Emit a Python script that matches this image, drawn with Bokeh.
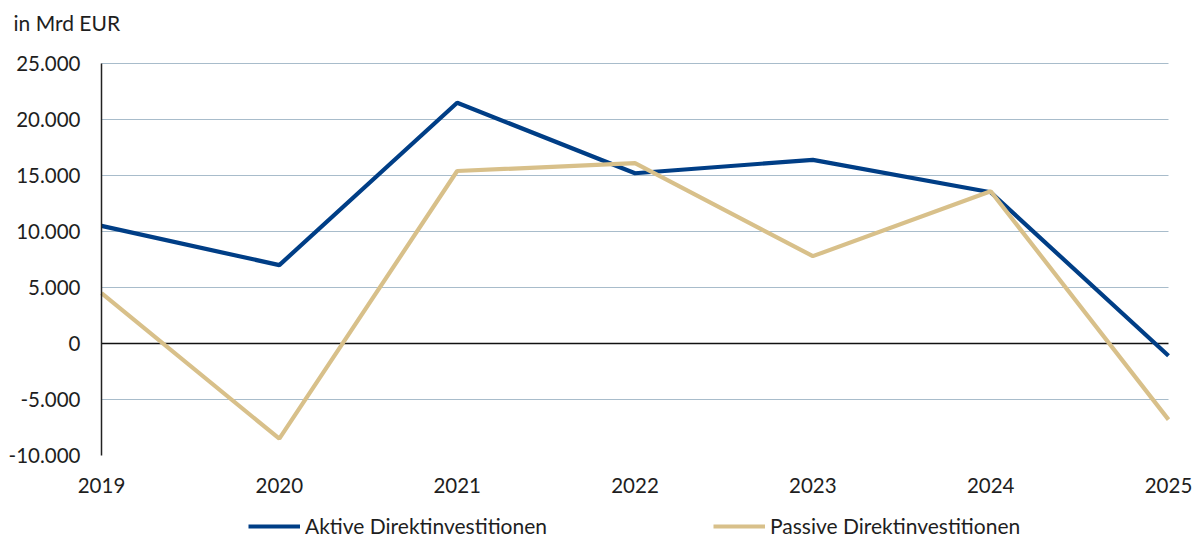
from bokeh.plotting import figure
from bokeh.models import FixedTicker, Legend, LegendItem, Range1d, Grid, Label
from bokeh.embed import file_html
from bokeh.resources import INLINE

years = [2019, 2020, 2021, 2022, 2023, 2024, 2025]
aktive = [10500, 7000, 21500, 15200, 16400, 13500, -1100]
passive = [4500, -8500, 15400, 16100, 7800, 13600, -6800]
y_ticks = [-10000, -5000, 0, 5000, 10000, 15000, 20000, 25000]
y_labels = ["-10.000", "-5.000", "0", "5.000", "10.000", "15.000", "20.000", "25.000"]
grid_ticks = [-5000, 5000, 10000, 15000, 20000, 25000]

FONT = "Lato"
TXT = "#1e1e1e"

W, H = 1203, 538
# plot-area geometry (pixels) of the reference
left_px, right_px, top_px, bottom_px = 101, 1168, 63, 455
ppx = (right_px - left_px) / (years[-1] - years[0])
ppy = (bottom_px - top_px) / (y_ticks[-1] - y_ticks[0])
x_range = Range1d(years[0] - left_px / ppx, years[-1] + (W - right_px) / ppx)
y_range = Range1d(y_ticks[0] - (H - bottom_px) / ppy, y_ticks[-1] + top_px / ppy)

p = figure(width=W, height=H, output_backend="svg", toolbar_location=None,
           x_range=x_range, y_range=y_range,
           min_border_left=0, min_border_right=0, min_border_top=0, min_border_bottom=0)
p.title = None
p.outline_line_color = None
p.background_fill_color = "white"
p.border_fill_color = "white"

ln1 = p.line(years, aktive, line_color="#003E86", line_width=4.2)
ln2 = p.line(years, passive, line_color="#D8C08A", line_width=4.2)

p.xgrid.grid_line_color = None
p.ygrid.ticker = FixedTicker(ticks=grid_ticks)
p.ygrid.grid_line_color = "#A8BCCB"
p.ygrid.grid_line_width = 1.2
p.ygrid.cross_bounds = (years[0], years[-1])

zero = Grid(dimension=1, ticker=FixedTicker(ticks=[0]), cross_bounds=(years[0], years[-1]),
            grid_line_color="#111111", grid_line_width=1.5)
p.add_layout(zero)

p.yaxis.ticker = FixedTicker(ticks=y_ticks)
p.yaxis.major_label_overrides = {t: l for t, l in zip(y_ticks, y_labels)}
p.yaxis.bounds = (y_ticks[0], y_ticks[-1])
p.yaxis.fixed_location = years[0]
p.xaxis.ticker = FixedTicker(ticks=years)
p.xaxis.major_label_overrides = {y: str(y) for y in years}
p.xaxis.fixed_location = y_ticks[0]

for ax in [p.xaxis[0], p.yaxis[0]]:
    ax.major_tick_line_color = None
    ax.minor_tick_line_color = None
    ax.major_label_text_font = FONT
    ax.major_label_text_font_size = "20.5px"
    ax.major_label_text_color = TXT
p.xaxis.axis_line_color = None
p.xaxis.major_label_standoff = 16
p.yaxis.axis_line_color = "#222222"
p.yaxis.axis_line_width = 1.5
p.yaxis.major_label_standoff = 15

p.add_layout(Label(x=13, y=H - 22, x_units="screen", y_units="screen", text="in Mrd EUR",
                   text_font=FONT, text_font_size="21px", text_color=TXT,
                   text_baseline="middle", text_align="left"))

legend = Legend(items=[LegendItem(label="Aktive Direktinvestitionen", renderers=[ln1]),
                       LegendItem(label="Passive Direktinvestitionen", renderers=[ln2])],
                orientation="horizontal", location=(248, 0),
                label_text_font=FONT, label_text_font_size="21px", label_text_color=TXT,
                glyph_width=52, label_standoff=5, spacing=166,
                border_line_color=None, background_fill_alpha=0, padding=0, margin=0)
p.add_layout(legend, "center")

open("out.html", "w").write(file_html(p, INLINE))
